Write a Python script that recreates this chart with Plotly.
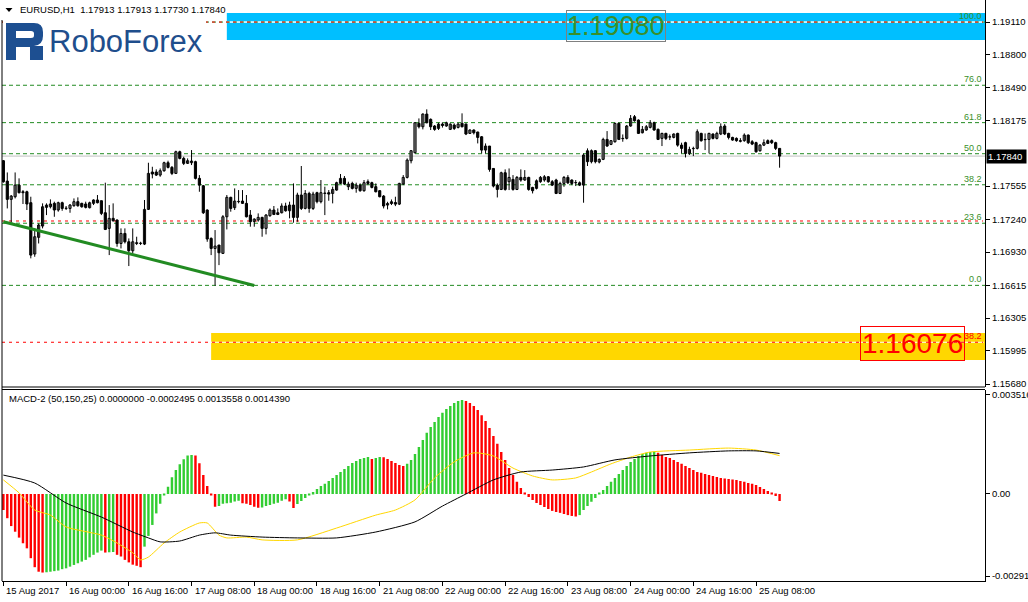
import re
import plotly.graph_objects as go

W, H = 1028, 602

# ---------------- DATA ----------------
opens = [
    1.17796, 1.17603, 1.17430, 1.17455, 1.17565, 1.17502, 1.17502, 1.17398, 1.16912, 1.17070,
    1.17177, 1.17354, 1.17360, 1.17392, 1.17329, 1.17398, 1.17344, 1.17344, 1.17370, 1.17408,
    1.17392, 1.17386, 1.17351, 1.17392, 1.17424, 1.17417, 1.17303, 1.17155, 1.17250, 1.17234,
    1.17012, 1.17107, 1.17028, 1.16943, 1.17019, 1.17012, 1.17006, 1.17335, 1.17689, 1.17689,
    1.17660, 1.17701, 1.17777, 1.17733, 1.17676, 1.17881, 1.17818, 1.17771, 1.17777, 1.17787,
    1.17629, 1.17559, 1.17329, 1.17060, 1.16965, 1.16997, 1.16918, 1.17265, 1.17449, 1.17351,
    1.17408, 1.17414, 1.17392, 1.17281, 1.17221, 1.17234, 1.17259, 1.17155, 1.17275, 1.17329,
    1.17303, 1.17303, 1.17367, 1.17322, 1.17376, 1.17259, 1.17471, 1.17344, 1.17486, 1.17344,
    1.17493, 1.17408, 1.17486, 1.17493, 1.17486, 1.17518, 1.17581, 1.17629, 1.17550, 1.17581,
    1.17534, 1.17565, 1.17512, 1.17597, 1.17588, 1.17550, 1.17512, 1.17461, 1.17376, 1.17407,
    1.17400, 1.17385, 1.17575, 1.17638, 1.17796, 1.17872, 1.18150, 1.18118, 1.18238, 1.18188,
    1.18125, 1.18102, 1.18143, 1.18125, 1.18093, 1.18134, 1.18112, 1.18150, 1.18143, 1.18055,
    1.18087, 1.18068, 1.18023, 1.17897, 1.17935, 1.17723, 1.17565, 1.17524, 1.17682, 1.17597,
    1.17619, 1.17524, 1.17638, 1.17613, 1.17638, 1.17543, 1.17534, 1.17597, 1.17613, 1.17644,
    1.17597, 1.17613, 1.17486, 1.17581, 1.17638, 1.17613, 1.17587, 1.17587, 1.17565, 1.17890,
    1.17787, 1.17891, 1.17784, 1.17809, 1.17998, 1.17951, 1.17976, 1.18150, 1.18008, 1.18008,
    1.18125, 1.18213, 1.18181, 1.18061, 1.18087, 1.18112, 1.18156, 1.18093, 1.18008, 1.18055,
    1.18023, 1.18017, 1.18055, 1.17944, 1.17967, 1.17865, 1.17910, 1.17913, 1.18055, 1.17998,
    1.17998, 1.18049, 1.18008, 1.18049, 1.18125, 1.18055, 1.18017, 1.18008, 1.17986, 1.17986,
    1.18039, 1.17976, 1.17967, 1.17891, 1.17944, 1.17986, 1.17986, 1.17967, 1.17913,
]
highs = [
    1.17802, 1.17685, 1.17471, 1.17685, 1.17629, 1.17518, 1.17512, 1.17455, 1.17155, 1.17202,
    1.17392, 1.17392, 1.17430, 1.17408, 1.17408, 1.17408, 1.17367, 1.17386, 1.17439, 1.17449,
    1.17398, 1.17408, 1.17408, 1.17430, 1.17471, 1.17417, 1.17588, 1.17376, 1.17392, 1.17240,
    1.17155, 1.17155, 1.17060, 1.17155, 1.17076, 1.17028, 1.17424, 1.17777, 1.17739, 1.17714,
    1.17723, 1.17787, 1.17796, 1.17746, 1.17891, 1.17891, 1.17834, 1.17818, 1.17897, 1.17796,
    1.17660, 1.17565, 1.17335, 1.17070, 1.17139, 1.16997, 1.17281, 1.17471, 1.17455, 1.17534,
    1.17518, 1.17518, 1.17471, 1.17329, 1.17250, 1.17297, 1.17265, 1.17291, 1.17344, 1.17367,
    1.17344, 1.17392, 1.17398, 1.17408, 1.17581, 1.17493, 1.17746, 1.17518, 1.17502, 1.17502,
    1.17502, 1.17613, 1.17550, 1.17518, 1.17550, 1.17597, 1.17670, 1.17651, 1.17597, 1.17597,
    1.17588, 1.17581, 1.17613, 1.17619, 1.17597, 1.17581, 1.17518, 1.17471, 1.17407, 1.17429,
    1.17455, 1.17587, 1.17660, 1.17818, 1.17897, 1.18160, 1.18197, 1.18245, 1.18283, 1.18197,
    1.18134, 1.18156, 1.18160, 1.18166, 1.18150, 1.18150, 1.18156, 1.18245, 1.18150, 1.18093,
    1.18093, 1.18071, 1.18030, 1.17960, 1.17935, 1.17723, 1.17581, 1.17692, 1.17714, 1.17723,
    1.17660, 1.17651, 1.17714, 1.17707, 1.17644, 1.17549, 1.17619, 1.17651, 1.17660, 1.17651,
    1.17613, 1.17625, 1.17597, 1.17651, 1.17660, 1.17619, 1.17613, 1.17600, 1.17865, 1.17913,
    1.17903, 1.17897, 1.17818, 1.18014, 1.18077, 1.17992, 1.18156, 1.18156, 1.18045, 1.18134,
    1.18229, 1.18229, 1.18188, 1.18125, 1.18134, 1.18181, 1.18166, 1.18102, 1.18061, 1.18061,
    1.18045, 1.18055, 1.18061, 1.17967, 1.17976, 1.17929, 1.17929, 1.18093, 1.18061, 1.18055,
    1.18061, 1.18055, 1.18071, 1.18150, 1.18143, 1.18061, 1.18023, 1.18017, 1.18010, 1.18055,
    1.18045, 1.17992, 1.17976, 1.17954, 1.17998, 1.17998, 1.17998, 1.17976, 1.17913,
]
lows = [
    1.17588, 1.17344, 1.17209, 1.17439, 1.17486, 1.17386, 1.17329, 1.16871, 1.16886, 1.17012,
    1.17155, 1.17281, 1.17344, 1.17265, 1.17313, 1.17322, 1.17329, 1.17303, 1.17360, 1.17360,
    1.17351, 1.17344, 1.17344, 1.17376, 1.17392, 1.17281, 1.17139, 1.16902, 1.17218, 1.16981,
    1.16965, 1.17012, 1.16798, 1.16918, 1.16997, 1.16997, 1.16997, 1.17329, 1.17629, 1.17651,
    1.17644, 1.17692, 1.17723, 1.17660, 1.17670, 1.17809, 1.17755, 1.17765, 1.17755, 1.17619,
    1.17502, 1.17291, 1.17028, 1.16902, 1.16612, 1.16807, 1.16912, 1.17145, 1.17313, 1.17329,
    1.17392, 1.17386, 1.17259, 1.17171, 1.17171, 1.17218, 1.17076, 1.17098, 1.17265, 1.17281,
    1.17281, 1.17297, 1.17313, 1.17250, 1.17209, 1.17218, 1.17329, 1.17335, 1.17303, 1.17329,
    1.17392, 1.17392, 1.17281, 1.17417, 1.17392, 1.17512, 1.17575, 1.17565, 1.17518, 1.17524,
    1.17493, 1.17502, 1.17502, 1.17565, 1.17534, 1.17496, 1.17449, 1.17344, 1.17335, 1.17376,
    1.17366, 1.17376, 1.17565, 1.17628, 1.17771, 1.17865, 1.18102, 1.18093, 1.18150, 1.18087,
    1.18080, 1.18087, 1.18110, 1.18118, 1.18087, 1.18087, 1.18102, 1.18112, 1.18039, 1.18049,
    1.18045, 1.17960, 1.17865, 1.17865, 1.17692, 1.17543, 1.17448, 1.17518, 1.17512, 1.17518,
    1.17512, 1.17518, 1.17597, 1.17606, 1.17512, 1.17486, 1.17524, 1.17587, 1.17597, 1.17587,
    1.17556, 1.17480, 1.17480, 1.17549, 1.17575, 1.17565, 1.17556, 1.17556, 1.17398, 1.17746,
    1.17771, 1.17771, 1.17771, 1.17802, 1.17929, 1.17944, 1.17967, 1.17992, 1.17976, 1.17998,
    1.18118, 1.18166, 1.18049, 1.18055, 1.18080, 1.18102, 1.18080, 1.17992, 1.17935, 1.17992,
    1.17992, 1.18008, 1.17929, 1.17865, 1.17827, 1.17850, 1.17840, 1.17903, 1.17976, 1.17897,
    1.17865, 1.17998, 1.17998, 1.18039, 1.18039, 1.17998, 1.17986, 1.17976, 1.17970, 1.17976,
    1.17954, 1.17944, 1.17872, 1.17881, 1.17935, 1.17954, 1.17954, 1.17897, 1.17730,
]
closes = [
    1.17597, 1.17430, 1.17461, 1.17565, 1.17493, 1.17493, 1.17386, 1.16902, 1.17076, 1.17187,
    1.17360, 1.17376, 1.17386, 1.17329, 1.17398, 1.17344, 1.17347, 1.17376, 1.17408, 1.17370,
    1.17360, 1.17354, 1.17398, 1.17424, 1.17398, 1.17297, 1.17145, 1.17250, 1.17228, 1.17012,
    1.17107, 1.17028, 1.16943, 1.17028, 1.17012, 1.17015, 1.17335, 1.17676, 1.17670, 1.17660,
    1.17701, 1.17777, 1.17733, 1.17676, 1.17881, 1.17818, 1.17771, 1.17796, 1.17793, 1.17629,
    1.17565, 1.17303, 1.17054, 1.16965, 1.16987, 1.16924, 1.17265, 1.17449, 1.17344, 1.17414,
    1.17411, 1.17392, 1.17265, 1.17218, 1.17243, 1.17259, 1.17155, 1.17281, 1.17329, 1.17287,
    1.17287, 1.17367, 1.17322, 1.17376, 1.17259, 1.17471, 1.17344, 1.17486, 1.17344, 1.17480,
    1.17408, 1.17493, 1.17490, 1.17480, 1.17524, 1.17588, 1.17629, 1.17575, 1.17575, 1.17534,
    1.17565, 1.17512, 1.17588, 1.17581, 1.17543, 1.17502, 1.17455, 1.17367, 1.17391, 1.17391,
    1.17385, 1.17581, 1.17638, 1.17802, 1.17891, 1.18156, 1.18118, 1.18238, 1.18156, 1.18118,
    1.18093, 1.18143, 1.18130, 1.18156, 1.18143, 1.18102, 1.18143, 1.18118, 1.18049, 1.18087,
    1.18061, 1.18017, 1.17897, 1.17935, 1.17714, 1.17556, 1.17524, 1.17682, 1.17524, 1.17638,
    1.17524, 1.17638, 1.17613, 1.17638, 1.17524, 1.17512, 1.17606, 1.17638, 1.17644, 1.17597,
    1.17565, 1.17486, 1.17581, 1.17638, 1.17587, 1.17581, 1.17590, 1.17565, 1.17850, 1.17787,
    1.17891, 1.17787, 1.17809, 1.17998, 1.17935, 1.17986, 1.18150, 1.17998, 1.18005, 1.18125,
    1.18197, 1.18175, 1.18055, 1.18093, 1.18118, 1.18156, 1.18087, 1.17998, 1.18055, 1.18008,
    1.18020, 1.18049, 1.17944, 1.17913, 1.17865, 1.17903, 1.17913, 1.18071, 1.17986, 1.17995,
    1.18055, 1.18008, 1.18055, 1.18118, 1.18049, 1.18017, 1.17992, 1.17986, 1.17980, 1.18039,
    1.17967, 1.17954, 1.17881, 1.17944, 1.17967, 1.17960, 1.17967, 1.17913, 1.17840,
]

macd_hist = [
    -0.00057, -0.00086, -0.00114, -0.00134, -0.00155, -0.00175, -0.00193, -0.00228, -0.00260, -0.00276,
    -0.00279, -0.00278, -0.00276, -0.00274, -0.00272, -0.00267, -0.00264, -0.00258, -0.00252, -0.00246,
    -0.00240, -0.00234, -0.00225, -0.00216, -0.00208, -0.00201, -0.00208, -0.00207, -0.00206, -0.00216,
    -0.00222, -0.00234, -0.00243, -0.00251, -0.00255, -0.00260, -0.00187, -0.00149, -0.00110, -0.00069,
    -0.00035, -0.00004, 0.00026, 0.00059, 0.00085, 0.00106, 0.00123, 0.00137, 0.00138, 0.00137,
    0.00109, 0.00067, 0.00028, -0.00004, -0.00045, -0.00043, -0.00035, -0.00033, -0.00031, -0.00027,
    -0.00024, -0.00033, -0.00035, -0.00039, -0.00045, -0.00049, -0.00048, -0.00043, -0.00039, -0.00035,
    -0.00031, -0.00024, -0.00019, -0.00027, -0.00050, -0.00036, -0.00025, -0.00014, -0.00004, 0.00007,
    0.00018, 0.00028, 0.00036, 0.00046, 0.00057, 0.00067, 0.00078, 0.00089, 0.00099, 0.00110,
    0.00117, 0.00124, 0.00128, 0.00131, 0.00124, 0.00128, 0.00131, 0.00130, 0.00124, 0.00117,
    0.00110, 0.00103, 0.00099, 0.00107, 0.00121, 0.00142, 0.00167, 0.00192, 0.00217, 0.00238,
    0.00256, 0.00273, 0.00288, 0.00302, 0.00312, 0.00323, 0.00330, 0.00334, 0.00330, 0.00323,
    0.00312, 0.00298, 0.00280, 0.00259, 0.00234, 0.00206, 0.00178, 0.00149, 0.00121, 0.00092,
    0.00067, 0.00043, 0.00021, 0.00004, -0.00011, -0.00021, -0.00032, -0.00039, -0.00046, -0.00053,
    -0.00060, -0.00064, -0.00067, -0.00071, -0.00075, -0.00078, -0.00080, -0.00075, -0.00057, -0.00043,
    -0.00028, -0.00014, 0.00002, 0.00014, 0.00028, 0.00043, 0.00057, 0.00071, 0.00085, 0.00099,
    0.00114, 0.00124, 0.00135, 0.00142, 0.00146, 0.00149, 0.00151, 0.00146, 0.00138, 0.00131,
    0.00128, 0.00121, 0.00114, 0.00107, 0.00099, 0.00092, 0.00085, 0.00078, 0.00075, 0.00071,
    0.00067, 0.00064, 0.00060, 0.00057, 0.00055, 0.00053, 0.00051, 0.00050, 0.00046, 0.00043,
    0.00039, 0.00036, 0.00032, 0.00025, 0.00018, 0.00011, 0.00004, -0.00007, -0.00025,
]

macd_black_idx = [0, 8, 16, 25, 33, 37, 40, 45, 50, 54, 58, 66, 75, 85, 95, 105, 112, 118,
                  125, 132, 140, 148, 156, 165, 175, 185, 192, 198]
macd_black_val = [0.00067, 0.00039, -0.00032, -0.00082, -0.00135, -0.00156, -0.00170, -0.00167,
                  -0.00146, -0.00138, -0.00146, -0.00153, -0.00156, -0.00156, -0.00135, -0.00099,
                  -0.00043, 0.00000, 0.00050, 0.00078, 0.00085, 0.00096, 0.00121, 0.00135,
                  0.00146, 0.00153, 0.00153, 0.00144]

macd_yellow_idx = [0, 4, 8, 12, 16, 25, 29, 33, 35, 37, 41, 45, 50, 52, 55, 57, 62, 66, 75,
                   85, 95, 100, 105, 110, 115, 120, 125, 130, 135, 140, 146, 150, 155, 160,
                   165, 175, 185, 192, 198]
macd_yellow_val = [0.00050, 0.00004, -0.00057, -0.00075, -0.00117, -0.00146, -0.00174, -0.00209,
                   -0.00234, -0.00224, -0.00174, -0.00135, -0.00103, -0.00103, -0.00146, -0.00156,
                   -0.00153, -0.00163, -0.00163, -0.00121, -0.00075, -0.00057, -0.00021, 0.00057,
                   0.00114, 0.00146, 0.00135, 0.00092, 0.00064, 0.00050, 0.00057, 0.00078,
                   0.00107, 0.00131, 0.00149, 0.00156, 0.00163, 0.00156, 0.00136]

x_tick_idx = [0, 16, 32, 48, 64, 80, 96, 112, 128, 144, 160, 176, 192]
x_tick_labels = ["15 Aug 2017", "16 Aug 00:00", "16 Aug 16:00", "17 Aug 08:00", "18 Aug 00:00",
                 "18 Aug 16:00", "21 Aug 08:00", "22 Aug 00:00", "22 Aug 16:00", "23 Aug 08:00",
                 "24 Aug 00:00", "24 Aug 16:00", "25 Aug 08:00"]
price_ticks = [1.19110, 1.18800, 1.18490, 1.18175, 1.17555, 1.17240, 1.16930,
               1.16615, 1.16305, 1.15995, 1.15680]
macd_ticks = [0.003516, 0.0, -0.002918]
macd_tick_labels = ["0.003516", "0.00", "-0.002918"]

fib_low, fib_high = 1.16615, 1.19110
fib_levels = [0.0, 23.6, 38.2, 50.0, 61.8, 76.0, 100.0]
red_levels = [1.19110, 1.17225, 1.16076]
current_price = 1.17840
trend_idx = [0, 64]
trend_price = [1.17218, 1.16614]
blue_zone = [1.18940, 1.19196]
blue_zone_start = 57
yellow_zone = [1.15908, 1.16164]
yellow_zone_start = 53
header = "EURUSD,H1  1.17913 1.17913 1.17730 1.17840"
macd_header = "MACD-2 (50,150,25) 0.0000000 -0.0002495 0.0013558 0.0014390"

# ---------------- LAYOUT HELPERS ----------------
def px(x):
    return x / W

def py(y):
    return 1 - y / H

def path_px(s):
    return re.sub(r'(-?\d+\.?\d*),(-?\d+\.?\d*)',
                  lambda m: f"{px(float(m.group(1))):.5f},{py(float(m.group(2))):.5f}", s)

X_MIN, X_MAX = -0.35, 250.4
Y_MAIN = [1.15652, 1.19319]
Y_MACD = [-0.00309, 0.00371]
FONT = "Liberation Sans, Arial, sans-serif"
FIB_GREEN = "#228B22"
n = len(closes)
idx = list(range(n))

fig = go.Figure()

# wicks
wx, wy = [], []
for i in idx:
    wx += [i, i, None]
    wy += [lows[i], highs[i], None]
fig.add_trace(go.Scatter(x=wx, y=wy, mode="lines", line=dict(color="black", width=1),
                         hoverinfo="skip", xaxis="x", yaxis="y"))
# bodies
body_base = [min(o, c) for o, c in zip(opens, closes)]
body_h = [max(abs(c - o), 0.00002) for o, c in zip(opens, closes)]
body_col = ["white" if c >= o else "black" for o, c in zip(opens, closes)]
fig.add_trace(go.Bar(x=idx, y=body_h, base=body_base, width=0.55,
                     marker=dict(color=body_col, line=dict(color="black", width=1)),
                     xaxis="x", yaxis="y"))
# trend line
fig.add_trace(go.Scatter(x=trend_idx, y=trend_price, mode="lines",
                         line=dict(color="#228B22", width=3), xaxis="x", yaxis="y"))

# MACD histogram
hcol = []
for i, v in enumerate(macd_hist):
    if i == 0:
        hcol.append("#FF0000")
    else:
        hcol.append("#32CD32" if v > macd_hist[i - 1] else "#FF0000")
fig.add_trace(go.Bar(x=list(range(len(macd_hist))), y=macd_hist, width=0.62,
                     marker=dict(color=hcol, line=dict(width=0)), xaxis="x", yaxis="y2"))
fig.add_trace(go.Scatter(x=macd_yellow_idx, y=macd_yellow_val, mode="lines",
                         line=dict(color="#FFD700", width=1, shape="spline", smoothing=0.6),
                         xaxis="x", yaxis="y2"))
fig.add_trace(go.Scatter(x=macd_black_idx, y=macd_black_val, mode="lines",
                         line=dict(color="black", width=1, shape="spline", smoothing=0.6),
                         xaxis="x", yaxis="y2"))

shapes = []
# zones
shapes.append(dict(type="rect", xref="x", yref="y", x0=blue_zone_start, x1=X_MAX,
                   y0=blue_zone[0], y1=blue_zone[1], fillcolor="#00BFFF",
                   line=dict(width=0), layer="below"))
shapes.append(dict(type="rect", xref="x", yref="y", x0=yellow_zone_start, x1=X_MAX,
                   y0=yellow_zone[0], y1=yellow_zone[1], fillcolor="#FFD700",
                   line=dict(width=0), layer="below"))
# current price line
shapes.append(dict(type="line", xref="x", yref="y", x0=X_MIN, x1=X_MAX,
                   y0=current_price, y1=current_price, line=dict(color="#C0C0C0", width=1),
                   layer="below"))
# level lines: white background first (gaps show white over the zones), then dashes
fib_prices = [fib_low + lv / 100 * (fib_high - fib_low) for lv in fib_levels]
for p in fib_prices + red_levels:
    shapes.append(dict(type="line", xref="x", yref="y", x0=X_MIN, x1=X_MAX - 0.3, y0=p, y1=p,
                       line=dict(color="white", width=1), layer="below"))
for p in fib_prices:
    shapes.append(dict(type="line", xref="x", yref="y", x0=X_MIN, x1=X_MAX, y0=p, y1=p,
                       line=dict(color=FIB_GREEN, width=1, dash="4px,3px"), layer="below"))
for p in red_levels:
    shapes.append(dict(type="line", xref="x", yref="y", x0=X_MIN, x1=X_MAX - 0.5, y0=p, y1=p,
                       line=dict(color="#FF0000", width=1, dash="3px,4px"), layer="below"))

# frame lines
shapes.append(dict(type="line", xref="paper", yref="paper", x0=px(2), x1=px(2),
                   y0=py(581), y1=py(20), line=dict(color="black", width=1)))
shapes.append(dict(type="line", xref="paper", yref="paper", x0=px(2), x1=px(985),
                   y0=py(387), y1=py(387), line=dict(color="black", width=1)))
shapes.append(dict(type="line", xref="paper", yref="paper", x0=px(2), x1=px(985),
                   y0=py(389.5), y1=py(389.5), line=dict(color="black", width=1)))

# logo background + icon
shapes.append(dict(type="rect", xref="paper", yref="paper", x0=px(3), x1=px(206),
                   y0=py(66), y1=py(19), fillcolor="white", line=dict(width=0), layer="above"))
r_icon = ("M6,23 L34,23 Q43,23 43,32 L43,36 Q43,45 34,46 L43,46 L43,60 L30,60 L30,47 "
          "L16,47 L16,60 L6,60 Z M16,31 L16,38 L31,38 Q34,38 34,35.5 L34,33.5 Q34,31 31,31 Z")
shapes.append(dict(type="path", xref="paper", yref="paper", path=path_px(r_icon),
                   fillcolor="#1d4f91", line=dict(width=0), layer="above"))
# header triangle
shapes.append(dict(type="path", xref="paper", yref="paper",
                   path=path_px("M5.5,8 L12.5,8 L9,12 Z"), fillcolor="black",
                   line=dict(width=0), layer="above"))

ann = []
ann.append(dict(xref="paper", yref="paper", x=px(18), y=py(10), xanchor="left",
                yanchor="middle", text=header, showarrow=False,
                font=dict(family=FONT, size=9.5, color="black")))
ann.append(dict(xref="paper", yref="paper", x=px(47), y=py(41), xanchor="left",
                yanchor="middle", text="RoboForex", showarrow=False,
                font=dict(family=FONT, size=31, color="#1f4e8c")))
ann.append(dict(xref="paper", yref="paper", x=px(7), y=py(398), xanchor="left",
                yanchor="middle", text=macd_header, showarrow=False,
                font=dict(family=FONT, size=9.5, color="black")))
for lv, p in zip(fib_levels, fib_prices):
    ann.append(dict(xref="paper", yref="y", x=px(984), y=p, xanchor="right", yanchor="bottom",
                    text=f"{lv:.1f}", showarrow=False, yshift=-1,
                    font=dict(family=FONT, size=9, color="#3a8f2a")))
ann.append(dict(xref="paper", yref="y", x=px(984), y=red_levels[2], xanchor="right",
                yanchor="bottom", text="38.2", showarrow=False, yshift=-1,
                font=dict(family=FONT, size=9, color="#FF0000")))
# price level labels
ann.append(dict(xref="x", yref="y", x=156.2, y=1.19077, text="1.19080", showarrow=False,
                xanchor="center", yanchor="middle", bordercolor="#808080", borderwidth=1,
                borderpad=0, font=dict(family=FONT, size=27, color="#3a8f2a")))
ann.append(dict(xref="x", yref="y", x=231.8, y=1.16064, text="1.16076", showarrow=False,
                xanchor="center", yanchor="middle", bordercolor="#FF0000", borderwidth=1,
                borderpad=1, font=dict(family=FONT, size=28, color="#FF0000")))
# current price tag
ann.append(dict(xref="paper", yref="y", x=px(986), y=current_price, xanchor="left",
                yanchor="middle", text="1.17840 ", showarrow=False, bgcolor="black",
                borderpad=1, font=dict(family=FONT, size=9.5, color="white")))
# x labels
for t, lab in zip(x_tick_idx, x_tick_labels):
    ann.append(dict(xref="x", yref="paper", x=t, y=py(590.5), xanchor="left",
                    yanchor="middle", text=lab, showarrow=False, xshift=1,
                    font=dict(family=FONT, size=9.5, color="black")))

fig.update_layout(
    width=W, height=H, margin=dict(l=0, r=0, t=0, b=0, autoexpand=False),
    paper_bgcolor="white", plot_bgcolor="white", showlegend=False, barmode="overlay",
    xaxis=dict(domain=[px(2), px(985)], range=[X_MIN, X_MAX], anchor="y2", automargin=False,
               showgrid=False, zeroline=False, showline=True, linecolor="black", linewidth=1,
               ticks="outside", ticklen=4, tickcolor="black", tickvals=x_tick_idx,
               showticklabels=False),
    yaxis=dict(domain=[py(387), py(0)], range=Y_MAIN, side="right", anchor="x",
               automargin=False,
               showgrid=False, zeroline=False, showline=True, linecolor="black", linewidth=1,
               ticks="outside", ticklen=4, tickcolor="black", tickvals=price_ticks,
               ticktext=[f"{v:.5f}" for v in price_ticks],
               tickfont=dict(family=FONT, size=9.5, color="black")),
    yaxis2=dict(domain=[py(581), py(389.5)], range=Y_MACD, side="right", anchor="x",
                automargin=False,
                showgrid=False, zeroline=False, showline=True, linecolor="black", linewidth=1,
                ticks="outside", ticklen=4, tickcolor="black", tickvals=macd_ticks,
                ticktext=macd_tick_labels,
                tickfont=dict(family=FONT, size=9.5, color="black")),
    shapes=shapes, annotations=ann,
)

fig.write_html("out.html", config={"displayModeBar": False},
               post_script="document.body.style.margin='0px';document.body.style.overflow='hidden';")
